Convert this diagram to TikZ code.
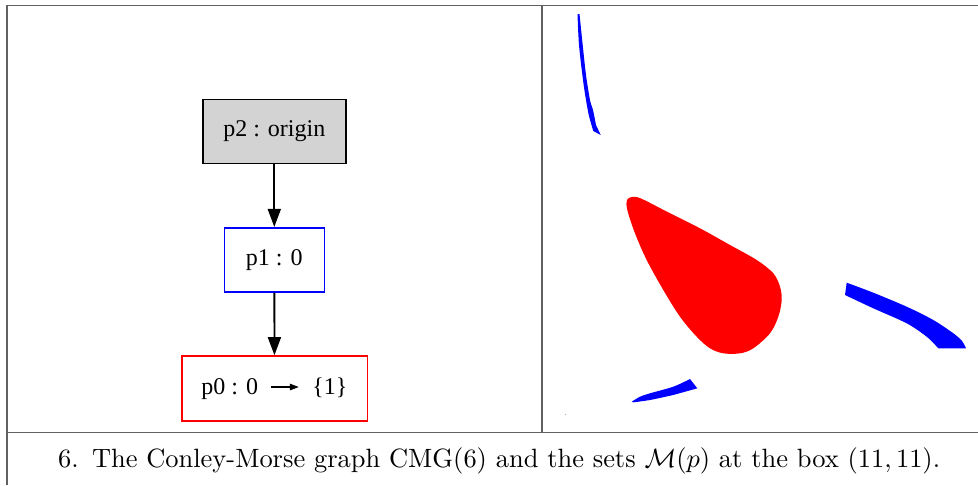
\documentclass[tikz,border=0pt]{standalone}
\usepackage{fontspec}
\newfontfamily\gvfont{Liberation Serif}
\usetikzlibrary{arrows.meta}
\definecolor{framegray}{gray}{0.38}
\tikzset{
  gvnode/.style={draw, line width=1.6pt, inner sep=0pt, minimum height=64pt, font=\gvfont\fontsize{24}{28}\selectfont},
  gvedge/.style={line width=1.8pt, -{Triangle[width=13pt,length=18pt]}},
  frameline/.style={draw=framegray, line width=1.6pt},
}
\newcommand{\gvarrow}{\raisebox{4pt}{\tikz\draw[line width=1.3pt,-{Triangle[width=6.5pt,length=9pt]}] (0pt,0pt) -- (28pt,0pt);}}
\begin{document}
\begin{tikzpicture}[x=1pt,y=-1pt]
\useasboundingbox (0,0) rectangle (978,485);
% frame
\draw[frameline] (7,485) -- (7,5.5) -- (978,5.5);
\draw[frameline] (7,432.5) -- (978,432.5);
\draw[frameline] (542,5.5) -- (542,432.5);
% graph
\node[gvnode, fill={rgb,255:red,211;green,211;blue,211}, draw=black, minimum width=143pt] (p2) at (274.3,131.3) {p2 : origin};
\node[gvnode, draw=blue, minimum width=100pt] (p1) at (274.3,259.7) {p1 : 0};
\node[gvnode, draw=red, minimum width=185.6pt, minimum height=65pt] (p0) at (274.5,388.5) {p0 : 0\hspace{12pt}\gvarrow\hspace{13pt}\{1\}};
\draw[gvedge] (p2) -- (p1);
\draw[gvedge] (p1) -- (p0);
% Morse sets
\fill[red] plot[smooth cycle, tension=0.55] coordinates {(627,200) (632,197) (641,198.5) (667,211.7) (700,228.3) (730,245) (756.7,260) (773.3,273.3) (780,286.7) (781.7,300) (778.3,316.7) (770,333.3) (753.3,348.3) (740,353.3) (723.3,353.3) (710,348.3) (696.7,336.7) (680,316.7) (663.3,290) (646.7,260) (635,233.3) (627.3,210)};
\fill[blue] plot[smooth] coordinates {(577.5,14) (579,45) (583,80) (586,100) (589,116) (593.3,131)} -- (600.7,135) -- plot[smooth] coordinates {(596,125) (593,110) (590,100) (586,75) (582.7,45) (579.5,14)} -- cycle;
\fill[blue] plot[smooth] coordinates {(846.7,282.7) (873.3,292.7) (906.7,306.7) (933.3,320) (953.3,333.3) (962,341) (966,348.3)} -- plot[smooth] coordinates {(938.3,348.3) (926.7,336.7) (906.7,323.3) (873.3,308.3) (845,295)} -- cycle;
\fill[blue] plot[smooth] coordinates {(631.7,401.7) (640,396.7) (650,393.3) (673.3,386.7) (690,379)} -- (697.3,388.3) -- plot[smooth] coordinates {(673.3,395) (650,400) (633.3,402.3)} -- cycle;
\fill[gray] (565.7,414.3) circle (0.5);
% caption
\node[anchor=base west, inner sep=0pt] (cap) at (58,467) {\scalebox{2.645}{6.\enspace The Conley-Morse graph CMG(6) and the sets $\mathcal{M}(p)$ at the box $(11,11)$.}};
\end{tikzpicture}
\end{document}
